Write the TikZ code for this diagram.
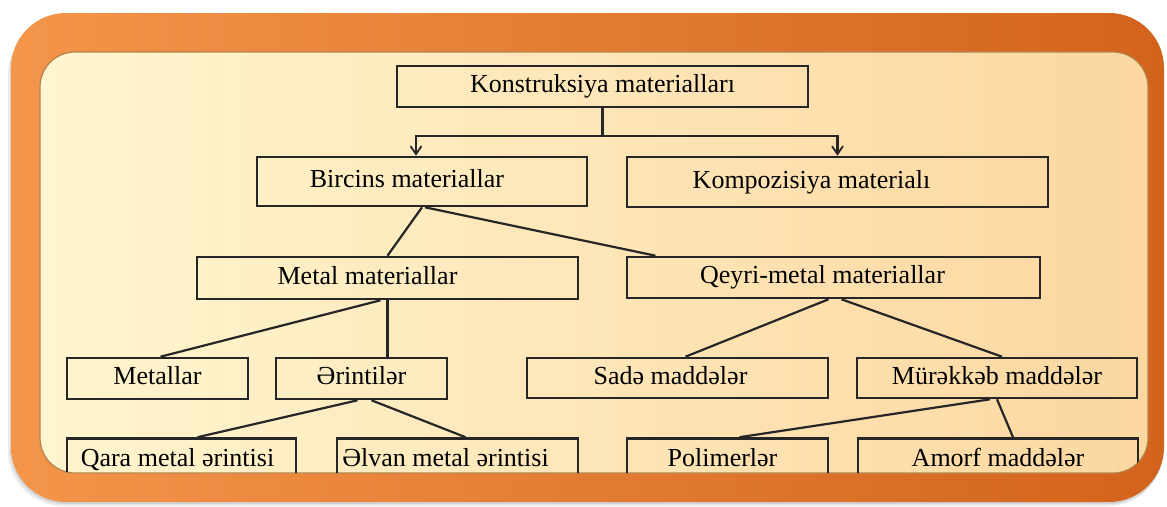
\documentclass[tikz,border=0pt]{standalone}
\usepackage{fontspec}
\setmainfont{Liberation Serif}
\usetikzlibrary{arrows.meta}
\definecolor{orL}{HTML}{F3954A}
\definecolor{orR}{HTML}{D3631C}
\definecolor{pnL}{HTML}{FFF5CF}
\definecolor{pnR}{HTML}{FCD7A0}
\definecolor{rim}{HTML}{B48450}
\newcommand\lsh[2]{#2\hspace*{#1}}
\begin{document}
\begin{tikzpicture}[x=1pt,y=-1pt,
  box/.style={draw=black!85, line width=2.6pt, inner sep=0pt,
    font=\fontsize{26}{29}\selectfont, text height=17pt, text depth=5pt},
  conn/.style={line width=2.2pt, draw=black!85},
  arr/.style={conn, -{Straight Barb[length=8pt,width=11pt,line width=1.8pt]}}]
\useasboundingbox (0,0) rectangle (1167,506);
% shadow
\fill[black, opacity=0.08, rounded corners=55pt] (8,20) rectangle (1163,506);
\fill[black, opacity=0.10, rounded corners=55pt] (10,17) rectangle (1164,504);
% orange frame
\shade[left color=orL, right color=orR, rounded corners=55pt] (11,13) rectangle (1164,502);
% inner panel
\shadedraw[left color=pnL, right color=pnR, rounded corners=35pt, draw=rim, line width=1.2pt] (40,52) rectangle (1148,473);

% nodes
\node[box, minimum width=411pt, minimum height=41pt] (k) at (602.5,86.5) {Konstruksiya materialları};
\node[box, minimum width=330pt, minimum height=49pt] (b) at (422,181.5) {\lsh{30pt}{Bircins materiallar}};
\node[box, minimum width=421pt, minimum height=50pt] (c) at (837.5,182) {\lsh{52pt}{Kompozisiya materialı}};
\node[box, minimum width=381pt, minimum height=42pt] (m) at (387.5,278) {\lsh{40pt}{Metal materiallar}};
\node[box, minimum width=413pt, minimum height=41pt] (q) at (833.5,277.5) {\lsh{22pt}{Qeyri-metal materiallar}};
\node[box, minimum width=181pt, minimum height=41pt] (met) at (157.5,378.5) {Metallar};
\node[box, minimum width=171pt, minimum height=41pt] (e) at (361.5,378.5) {Ərintilər};
\node[box, minimum width=301pt, minimum height=40pt] (s) at (677.5,378) {\lsh{14pt}{Sadə maddələr}};
\node[box, minimum width=280pt, minimum height=40pt] (mu) at (997,378) {Mürəkkəb maddələr};
\begin{scope}
\clip[rounded corners=35pt] (40,52) rectangle (1148,473);
\node[box, minimum width=229pt, minimum height=43pt] (qa) at (181.5,460) {\lsh{8pt}{Qara metal ərintisi}};
\node[box, minimum width=241pt, minimum height=43pt] (el) at (457.5,460) {\lsh{24pt}{Əlvan metal ərintisi}};
\node[box, minimum width=201pt, minimum height=43pt] (po) at (727.5,460) {\lsh{10pt}{Polimerlər}};
\node[box, minimum width=280pt, minimum height=43pt] (am) at (998,460) {Amorf maddələr};
\end{scope}

% connectors
\coordinate (j) at (602.5,136);
\draw[conn] (k.south) -- (j);
\draw[arr] (j) -| ([xshift=-6pt]b.north);
\draw[arr] (j) -| (c.north);
\draw[conn] (b.south) -- (m.north);
\draw[conn] ([xshift=3pt]b.south) -- ([xshift=-178pt]q.north);
\draw[conn] ([xshift=-7pt]m.south) -- ([xshift=3pt]met.north);
\draw[conn] (m.south) -- (m.south |- e.north);
\draw[conn] ([xshift=-4pt]e.south) -- ([xshift=16pt]qa.north);
\draw[conn] ([xshift=10pt]e.south) -- ([xshift=8pt]el.north);
\draw[conn] ([xshift=-5pt]q.south) -- ([xshift=8pt]s.north);
\draw[conn] ([xshift=8pt]q.south) -- ([xshift=5pt]mu.north);
\draw[conn] ([xshift=-7pt]mu.south) -- ([xshift=12pt]po.north);
\draw[conn] (mu.south) -- ([xshift=15pt]am.north);
\end{tikzpicture}
\end{document}
